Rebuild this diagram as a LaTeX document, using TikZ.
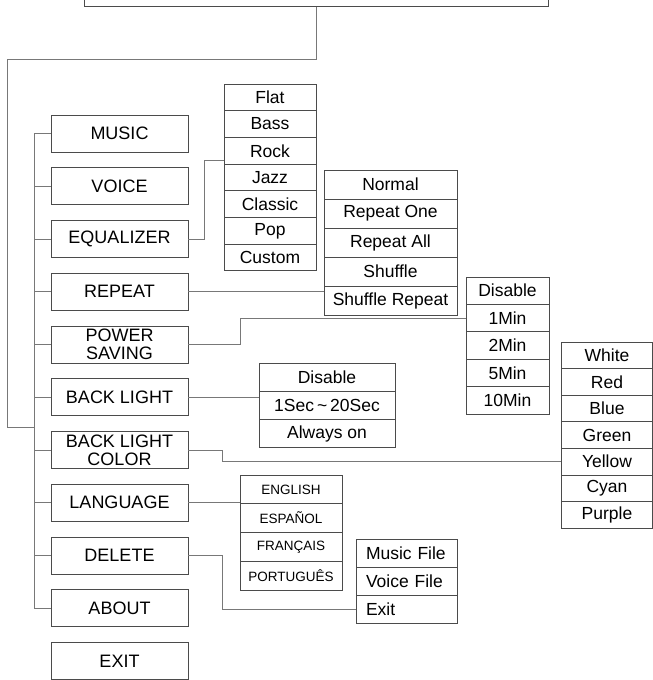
\documentclass[tikz,border=0pt]{standalone}
\usepackage{fontspec}
\setmainfont{Liberation Sans}
\usetikzlibrary{positioning,calc}
\definecolor{boxgray}{RGB}{75,75,75}
\definecolor{linkgray}{RGB}{120,120,120}
\tikzset{
  menubox/.style={draw=boxgray,line width=0.9pt,minimum width=137pt,minimum height=37pt,inner sep=0pt,align=center,font=\fontsize{18}{18}\selectfont},
  item/.style={draw=boxgray,line width=0.9pt,inner sep=0pt,font=\fontsize{17.5}{17.5}\selectfont},
  link/.style={draw=linkgray,line width=0.9pt}
}
\begin{document}
\begin{tikzpicture}[x=1pt,y=-1pt]
  \useasboundingbox (0,0) rectangle (653,680);
  \clip (0,0) rectangle (653,680);

  % screen box, cut by the top edge
  \node[draw=boxgray,line width=0.9pt,minimum width=464pt,minimum height=40pt,anchor=south] (device) at (316,7) {};

  % main menu
  \foreach \n/\t [count=\i from 0] in {music/MUSIC,voice/VOICE,eq/EQUALIZER,repeat/REPEAT,power/{POWER\\SAVING},light/BACK LIGHT,color/{BACK LIGHT\\COLOR},lang/LANGUAGE,delete/DELETE,about/ABOUT,exit/EXIT}{
    \node[menubox] (\n) at (119.5,{133.5+52.75*\i}) {\t};
  }

  \coordinate (hub) at (34,427);
  \coordinate (turn) at (7,59);

  \draw[link] (device.south) |- (turn) |- (hub);
  \draw[link] (music.west -| hub) -- (about.west -| hub);
  \foreach \n in {music,voice,eq,repeat,power,light,color,lang,delete,about}
    \draw[link] (\n.west -| hub) -- (\n.west);

  % sub menus
  \foreach \t [count=\i] in {Flat,Bass,Rock,Jazz,Classic,Pop,Custom}
    \node[item,minimum width=92pt,minimum height=26.7pt] (e\i) at (270,{84+26.7*(\i-0.5)}) {\t};

  \foreach \t [count=\i] in {Normal,Repeat One,Repeat All,Shuffle,Shuffle Repeat}
    \node[item,minimum width=133pt,minimum height=29pt] (r\i) at (390.5,{170+29*(\i-0.5)}) {\t};

  \foreach \t [count=\i] in {Disable,1Min,2Min,5Min,10Min}
    \node[item,minimum width=83pt,minimum height=27.4pt] (p\i) at (507.5,{277+27.4*(\i-0.5)}) {\t};

  \foreach \t [count=\i] in {Disable,1Sec\,\textasciitilde\,20Sec,Always on}
    \node[item,minimum width=136pt,minimum height=28.3pt] (b\i) at (327,{363+28.3*(\i-0.5)}) {\t};

  \foreach \t [count=\i] in {White,Red,Blue,Green,Yellow,Cyan,Purple}
    \node[item,minimum width=91pt,minimum height=26.6pt] (c\i) at (607,{342+26.6*(\i-0.5)}) {\t};

  \foreach \t [count=\i] in {ENGLISH,ESPAÑOL,FRANÇAIS,PORTUGUÊS}
    \node[item,minimum width=102pt,minimum height=28.75pt,font=\fontsize{13.5}{13.5}\selectfont] (l\i) at (291,{475+28.75*(\i-0.5)}) {\t};

  \foreach \t [count=\i] in {Music File,Voice File,Exit}
    \node[item,minimum height=28pt,inner xsep=10pt,text width=81pt,align=left] (d\i) at (406.5,{539+28*(\i-0.5)}) {\t};

  % links to the sub menus
  \draw[link] (eq.east) -- ++(16,0) |- ([yshift=-10pt]e3.west);
  \draw[link] (repeat.east) -- (repeat.east -| r5.west);
  \draw[link] (power.east) -- ++(52,0) |- (p2.west);
  \draw[link] (light.east) -- (light.east -| b2.west);
  \draw[link] (color.east) -- ++(34,0) |- (c5.west);
  \draw[link] (lang.east) -- (lang.east -| l1.west);
  \draw[link] (delete.east) -- ++(34,0) |- (d3.west);
\end{tikzpicture}
\end{document}
